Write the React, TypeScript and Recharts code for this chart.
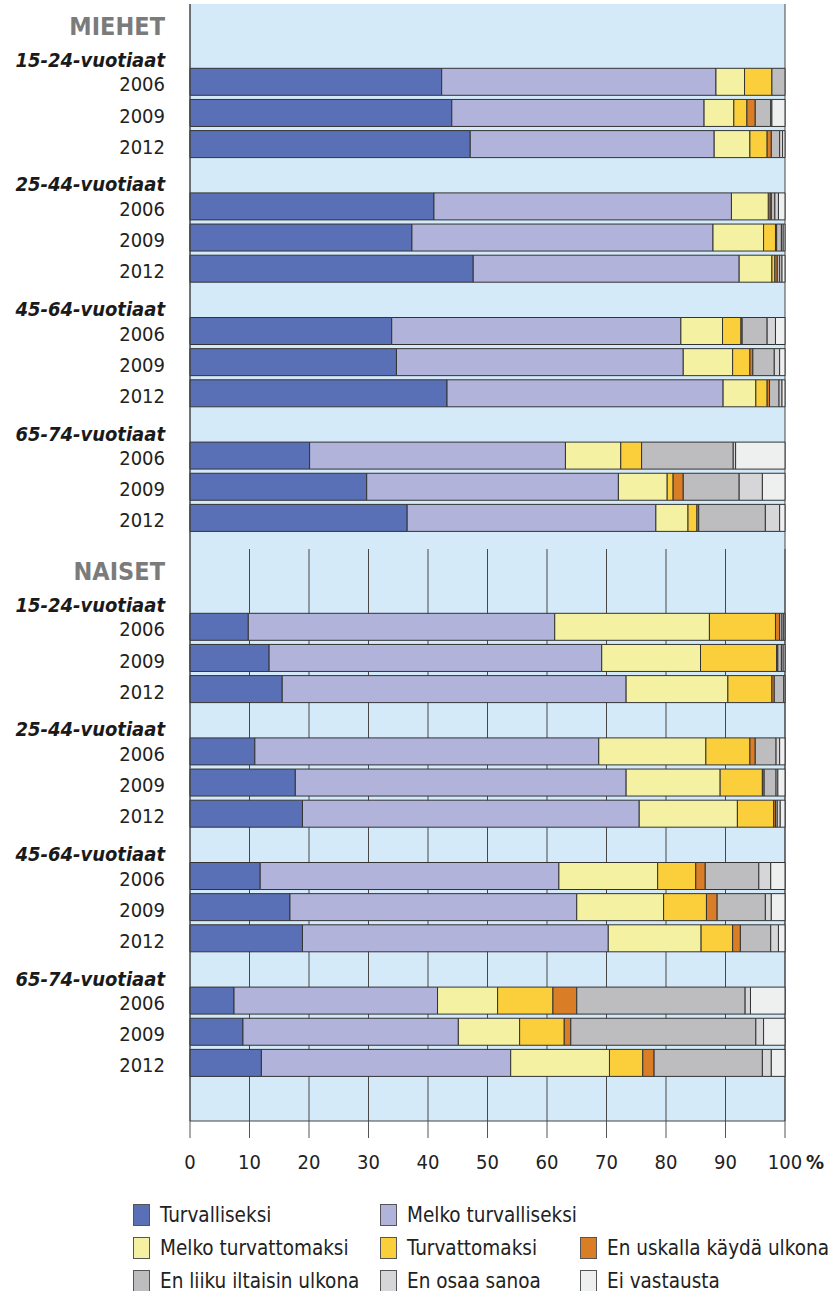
import React from "react";
import { Bar, BarChart, CartesianGrid, XAxis, YAxis } from "recharts";

// Turvallisuuden tunne iltaisin ulkona, miehet ja naiset ikäryhmittäin (%)
const FONT = '"DejaVu Sans Condensed", "DejaVu Sans", sans-serif';

const GENDERS = ["MIEHET", "NAISET"];
const AGE_GROUPS = ["15-24-vuotiaat", "25-44-vuotiaat", "45-64-vuotiaat", "65-74-vuotiaat"];
const YEARS = ["2006", "2009", "2012"];
const X_TICKS = [0, 10, 20, 30, 40, 50, 60, 70, 80, 90, 100];

const SERIES_NAMES = [
  "Turvalliseksi",
  "Melko turvalliseksi",
  "Melko turvattomaksi",
  "Turvattomaksi",
  "En uskalla käydä ulkona",
  "En liiku iltaisin ulkona",
  "En osaa sanoa",
  "Ei vastausta",
];
const SERIES_COLORS = ["#5a70b6", "#b1b3da", "#f5f1a3", "#fbcf3b", "#d97e26", "#bdbdbf", "#d6d6d8", "#eef0ef"];

// rivijärjestys: miehet 15-24 (2006, 2009, 2012), 25-44, 45-64, 65-74, sitten naiset samoin
const turvalliseksi = [
  42.3, 44.0, 47.1, 41.0, 37.3, 47.6, 33.9, 34.7, 43.2, 20.1, 29.7, 36.5,
  9.8, 13.3, 15.5, 10.9, 17.7, 18.9, 11.8, 16.8, 18.9, 7.4, 8.9, 12.0,
];
const melkoTurvalliseksi = [
  46.1, 42.4, 41.0, 50.0, 50.6, 44.7, 48.6, 48.2, 46.4, 43.0, 42.3, 41.8,
  51.5, 55.9, 57.8, 57.8, 55.6, 56.6, 50.2, 48.2, 51.4, 34.2, 36.2, 41.9,
];
const melkoTurvattomaksi = [
  4.8, 5.0, 6.0, 6.2, 8.5, 5.5, 7.0, 8.3, 5.5, 9.3, 8.2, 5.4,
  26.0, 16.6, 17.1, 18.0, 15.8, 16.5, 16.6, 14.6, 15.6, 10.1, 10.3, 16.6,
];
const turvattomaksi = [
  4.6, 2.2, 2.9, 0.3, 2.0, 0.5, 3.1, 2.9, 1.9, 3.5, 1.0, 1.5,
  11.1, 12.8, 7.4, 7.4, 7.1, 6.1, 6.4, 7.2, 5.3, 9.3, 7.5, 5.6,
];
const enUskalla = [
  0, 1.4, 0.7, 0.2, 0.2, 0.4, 0.2, 0.5, 0.4, 0, 1.7, 0.3,
  0.7, 0.2, 0.4, 0.9, 0.3, 0.3, 1.6, 1.8, 1.3, 4.0, 1.1, 1.9,
];
const enLiiku = [
  2.2, 2.6, 1.4, 0.6, 0.8, 0.4, 4.2, 3.6, 1.6, 15.4, 9.4, 11.2,
  0.4, 0.6, 1.6, 3.5, 2.0, 0.3, 9.0, 8.1, 5.1, 28.3, 31.1, 18.2,
];
const enOsaa = [
  0, 0.2, 0.5, 0.6, 0.3, 0.4, 1.4, 0.9, 0.5, 0.4, 3.9, 2.4,
  0.3, 0.3, 0, 0.6, 0.3, 0.5, 2.0, 1.0, 1.3, 0.9, 1.3, 1.5,
];
const eiVastausta = [
  0, 2.2, 0.4, 1.1, 0.3, 0.5, 1.6, 0.9, 0.5, 8.3, 3.8, 0.9,
  0.2, 0.3, 0.2, 0.9, 1.2, 0.8, 2.4, 2.3, 1.1, 5.8, 3.6, 2.3,
];

const SERIES_VALUES = [
  turvalliseksi,
  melkoTurvalliseksi,
  melkoTurvattomaksi,
  turvattomaksi,
  enUskalla,
  enLiiku,
  enOsaa,
  eiVastausta,
];

// legendan rivit (sarjojen indeksit)
const LEGEND_ROWS = [[0, 1], [2, 3, 4], [5, 6, 7]];

type Row = { key: string; label: string; kind: "group" | "age" | "year"; [k: string]: any };

function buildRows(g: number): Row[] {
  const rows: Row[] = [{ key: `g${g}`, label: GENDERS[g], kind: "group" }];
  AGE_GROUPS.forEach((age, a) => {
    rows.push({ key: `g${g}a${a}`, label: age, kind: "age" });
    YEARS.forEach((year, y) => {
      const i = g * 12 + a * 3 + y;
      const row: Row = { key: `g${g}a${a}y${y}`, label: year, kind: "year" };
      SERIES_VALUES.forEach((vals, s) => {
        row[`s${s}`] = vals[i];
      });
      rows.push(row);
    });
  });
  return rows;
}

const ROW_PITCH = 31.15;

function RowTick(props: any) {
  const { x, y, payload, rows } = props;
  const row = (rows as Row[]).find((r) => r.key === payload.value);
  if (!row) return null;
  if (row.kind === "group") {
    return (
      <text x={x} y={y + 15} textAnchor="end" fontFamily={FONT} fontStretch="condensed" fontSize={25} fontWeight="bold" fill="#7b7b7b">
        {row.label}
      </text>
    );
  }
  if (row.kind === "age") {
    return (
      <text x={x} y={y + 16} textAnchor="end" fontFamily={FONT} fontStretch="condensed" fontSize={20} fontWeight="bold" fontStyle="italic" fill="#1a1a1a">
        {row.label}
      </text>
    );
  }
  return (
    <text x={x} y={y + 9.5} textAnchor="end" fontFamily={FONT} fontStretch="condensed" fontSize={20} fill="#222">
      {row.label}
    </text>
  );
}

function PercentTick(props: any) {
  const { x, y, payload } = props;
  return (
    <g fontFamily={FONT} fontSize={20} fill="#222">
      <text x={x} y={y + 31} textAnchor="middle" fontStretch="condensed">
        {payload.value}
      </text>
      {payload.value === 100 && (
        <text x={x + 21} y={y + 31} fontWeight="bold" fontStretch="condensed">
          %
        </text>
      )}
    </g>
  );
}

function Panel({ gender, height, plotHeight, withAxis }: { gender: number; height: number; plotHeight: number; withAxis: boolean }) {
  const rows = buildRows(gender);
  const padBottom = plotHeight - rows.length * ROW_PITCH;
  return (
    <BarChart
      width={839}
      height={height}
      data={rows}
      layout="vertical"
      margin={{ top: withAxis ? 0 : 4, right: 54, bottom: 0, left: 0 }}
      barSize={27}
    >
      <CartesianGrid horizontal={false} fill="#d4eaf8" stroke="#474747" />
      {withAxis ? (
        <XAxis
          type="number"
          domain={[0, 100]}
          ticks={X_TICKS}
          orientation="bottom"
          height={height - plotHeight}
          tickSize={17}
          tickMargin={0}
          tickLine={{ stroke: "#555" }}
          axisLine={{ stroke: "#444" }}
          tick={<PercentTick />}
          interval={0}
        />
      ) : (
        <XAxis
          type="number"
          domain={[0, 100]}
          ticks={X_TICKS}
          orientation="top"
          height={0}
          tick={false}
          tickLine={false}
          axisLine={{ stroke: "#777" }}
        />
      )}
      <YAxis
        type="category"
        dataKey="key"
        width={190}
        padding={{ top: 0, bottom: padBottom }}
        tick={<RowTick rows={rows} />}
        tickLine={false}
        tickSize={0}
        tickMargin={25}
        axisLine={{ stroke: "#444" }}
        interval={0}
      />
      {SERIES_NAMES.map((name, s) => (
        <Bar
          key={name}
          name={name}
          dataKey={`s${s}`}
          stackId="a"
          fill={SERIES_COLORS[s]}
          stroke="#333"
          strokeWidth={1}
          isAnimationActive={false}
        />
      ))}
    </BarChart>
  );
}

function LegendBlock() {
  return (
    <div style={{ position: "absolute", left: 133, top: 1198, fontFamily: FONT, fontStretch: "condensed", fontSize: 20.5, color: "#222" }}>
      {LEGEND_ROWS.map((items, r) => (
        <div key={r} style={{ display: "flex", height: 33, alignItems: "center" }}>
          {items.map((s, c) => (
            <div key={s} style={{ display: "flex", alignItems: "center", width: c === 0 ? 247 : c === 1 ? 200 : "auto" }}>
              <span
                style={{
                  display: "inline-block",
                  width: 17,
                  height: 22,
                  background: SERIES_COLORS[s],
                  border: "1px solid #555",
                  boxSizing: "border-box",
                  marginRight: 10,
                }}
              />
              <span style={{ whiteSpace: "nowrap" }}>{SERIES_NAMES[s]}</span>
            </div>
          ))}
        </div>
      ))}
    </div>
  );
}

export default function App() {
  return (
    <div style={{ position: "relative", width: 839, height: 1291, background: "#fff", overflow: "hidden" }}>
      <style>{"body{margin:0}"}</style>
      <div style={{ position: "absolute", left: 0, top: 0 }}>
        <Panel gender={0} height={549} plotHeight={545} withAxis={false} />
      </div>
      <div style={{ position: "absolute", left: 0, top: 549 }}>
        <Panel gender={1} height={642} plotHeight={572} withAxis={true} />
      </div>
      <LegendBlock />
    </div>
  );
}
